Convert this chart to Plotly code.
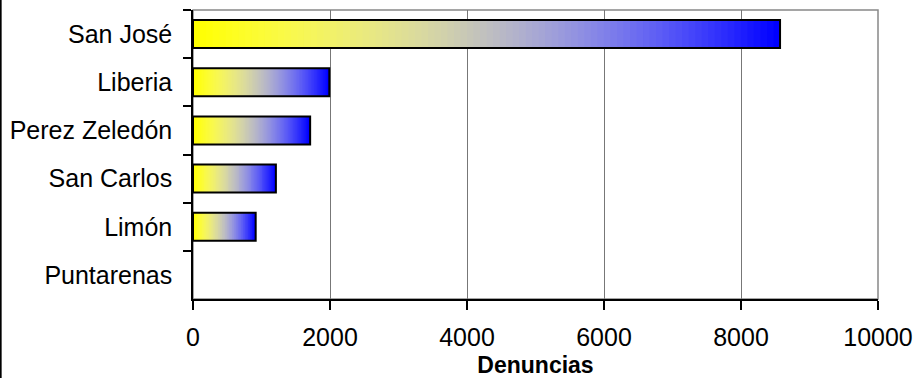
import plotly.graph_objects as go

# Data
categories = ["San José", "Liberia", "Perez Zeledón", "San Carlos", "Limón", "Puntarenas"]
values = [8570, 1990, 1710, 1210, 915, 0]
x_ticks = [0, 2000, 4000, 6000, 8000, 10000]
x_title = "Denuncias"

N = 90
BAR_W = 0.58


def grad_color(t):
    rg = 255 * (1 - t * t)
    b = 255 * (1 - (1 - t) * (1 - t))
    return "rgb(%d,%d,%d)" % (round(rg), round(rg), round(b))


fig = go.Figure()

for k in range(N):
    t = k / (N - 1)
    bases = [v * k / N for v in values]
    widths = [min(v / N * 1.8, v - b) for v, b in zip(values, bases)]
    fig.add_trace(go.Bar(
        y=categories, x=widths, base=bases, orientation="h",
        width=BAR_W,
        marker=dict(color=grad_color(t), line=dict(width=0)),
        hoverinfo="skip", showlegend=False,
    ))

# Outline trace
fig.add_trace(go.Bar(
    y=categories, x=values, orientation="h", width=BAR_W,
    marker=dict(color="rgba(0,0,0,0)",
                line=dict(color="black", width=[2 if v > 0 else 0 for v in values])),
    showlegend=False,
))

font_family = "Liberation Sans, Arial, sans-serif"

fig.update_layout(
    width=915, height=378,
    margin=dict(l=193, r=37, t=10, b=79, autoexpand=False),
    barmode="overlay",
    plot_bgcolor="white", paper_bgcolor="white",
    font=dict(family=font_family, color="black", size=25),
    shapes=[
        dict(type="rect", xref="paper", yref="paper", x0=0, x1=1, y0=0, y1=1,
             line=dict(color="#888888", width=1.5), layer="below"),
        dict(type="line", xref="paper", yref="paper", x0=-0.2808, x1=-0.2808, y0=-0.3, y1=1.05,
             line=dict(color="black", width=2)),
    ],
)

fig.update_xaxes(
    range=[0, 10000], tickvals=x_ticks, ticktext=[str(v) for v in x_ticks],
    automargin=False,
    showgrid=True, gridcolor="#777777", gridwidth=1,
    zeroline=False, showline=True, linecolor="black", linewidth=1.5,
    ticks="outside", ticklen=9, tickcolor="black", tickwidth=1.5,
    tickfont=dict(size=25, family=font_family),
    ticklabelstandoff=6,
    title=dict(text="<b>" + x_title + "</b>", font=dict(size=23, family=font_family), standoff=9),
)

fig.update_yaxes(
    categoryorder="array", categoryarray=categories, autorange="reversed",
    automargin=False,
    showgrid=False, zeroline=False, showline=True, linecolor="black", linewidth=1.5,
    ticks="outside", ticklen=8, tickcolor="black", tickwidth=1.5, tickson="boundaries",
    tickfont=dict(size=25, family=font_family),
    ticklabelstandoff=14,
)

fig.write_html("out.html")
